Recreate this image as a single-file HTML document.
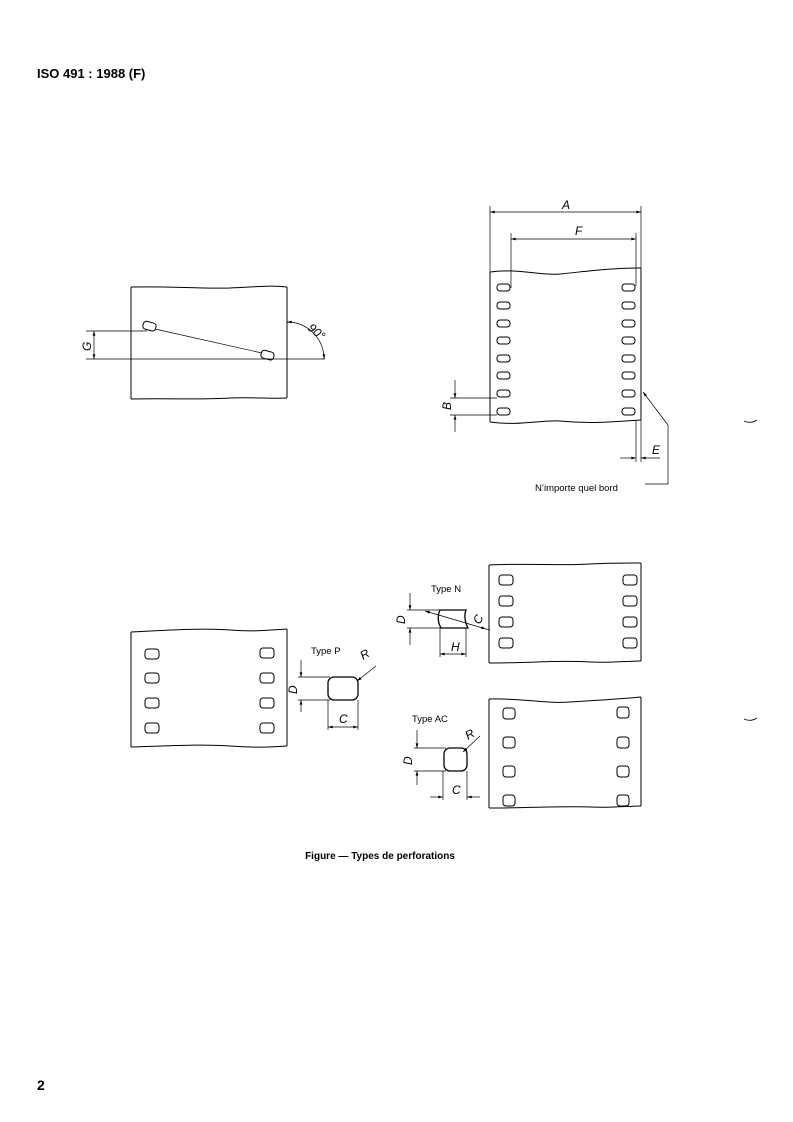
<!DOCTYPE html>
<html><head><meta charset="utf-8"><style>
html,body{margin:0;padding:0;background:#fff}
svg{display:block}
text{font-family:"Liberation Sans",sans-serif;fill:#000}
.i{font-style:italic;font-size:12px}
</style></head><body>
<svg width="793" height="1122" viewBox="0 0 793 1122" xmlns="http://www.w3.org/2000/svg">
<defs>
<marker id="a" viewBox="0 0 10 6" refX="10" refY="3" markerWidth="8" markerHeight="4" orient="auto-start-reverse"><path d="M0,0 L10,3 L0,6z" fill="#000"/></marker>
</defs>
<text x="37" y="78" font-size="13" font-weight="bold">ISO 491 : 1988 (F)</text>
<g fill="none" stroke="#000" stroke-width="1">
<!-- top right film -->
<path d="M490,272 C520,268 540,276 560,274 C590,271 610,268 641,268"/>
<path d="M490,422 C520,426 540,420 560,421 C590,424 610,422 641,420"/>
<line x1="490" y1="272" x2="490" y2="422"/>
<line x1="641" y1="268" x2="641" y2="420"/>
<g stroke-width="1">
<rect x="497" y="284" width="13" height="7" rx="3"/><rect x="497" y="302" width="13" height="7" rx="3"/><rect x="497" y="320" width="13" height="7" rx="3"/><rect x="497" y="337" width="13" height="7" rx="3"/><rect x="497" y="355" width="13" height="7" rx="3"/><rect x="497" y="372" width="13" height="7" rx="3"/><rect x="497" y="390" width="13" height="7" rx="3"/><rect x="497" y="408" width="13" height="7" rx="3"/>
<rect x="622" y="284" width="13" height="7" rx="3"/><rect x="622" y="302" width="13" height="7" rx="3"/><rect x="622" y="320" width="13" height="7" rx="3"/><rect x="622" y="337" width="13" height="7" rx="3"/><rect x="622" y="355" width="13" height="7" rx="3"/><rect x="622" y="372" width="13" height="7" rx="3"/><rect x="622" y="390" width="13" height="7" rx="3"/><rect x="622" y="408" width="13" height="7" rx="3"/>
</g>
<line x1="490" y1="206" x2="490" y2="272" stroke-width="0.7"/>
<line x1="641" y1="206" x2="641" y2="268" stroke-width="0.7"/>
<line x1="490" y1="212" x2="641" y2="212" marker-start="url(#a)" marker-end="url(#a)" stroke-width="0.7"/>
<line x1="511" y1="233" x2="511" y2="288" stroke-width="0.7"/>
<line x1="636" y1="233" x2="636" y2="286" stroke-width="0.7"/>
<line x1="511" y1="239" x2="636" y2="239" marker-start="url(#a)" marker-end="url(#a)" stroke-width="0.7"/>
<line x1="450" y1="398" x2="497" y2="398" stroke-width="0.7"/>
<line x1="450" y1="415" x2="497" y2="415" stroke-width="0.7"/>
<line x1="455" y1="380" x2="455" y2="398" marker-end="url(#a)" stroke-width="0.7"/>
<line x1="455" y1="432" x2="455" y2="415" marker-end="url(#a)" stroke-width="0.7"/>
<line x1="636" y1="420" x2="636" y2="462" stroke-width="0.7"/>
<line x1="641" y1="420" x2="641" y2="462" stroke-width="0.7"/>
<line x1="620" y1="458" x2="636" y2="458" marker-end="url(#a)" stroke-width="0.7"/>
<line x1="660" y1="458" x2="641" y2="458" marker-end="url(#a)" stroke-width="0.7"/>
<polyline points="668,484 668,425 643,392" marker-end="url(#a)" stroke-width="0.7"/>
<line x1="645" y1="484" x2="668" y2="484" stroke-width="0.7"/>
<!-- top left -->
<path d="M131,287 C170,286 200,289 230,288 C255,287 270,285 287,287"/>
<path d="M131,399 C170,398 200,400 230,398 C255,397 270,399 287,398"/>
<line x1="131" y1="287" x2="131" y2="399"/><line x1="287" y1="287" x2="287" y2="398"/>
<rect x="143" y="322" width="13" height="8" rx="3" transform="rotate(15 149 326)"/>
<rect x="261" y="351" width="13" height="8" rx="3" transform="rotate(15 267 355)"/>
<line x1="155" y1="329" x2="262" y2="353" stroke-width="0.7"/>
<line x1="86" y1="331" x2="147" y2="331" stroke-width="0.7"/>
<line x1="86" y1="359" x2="325" y2="359" stroke-width="0.7"/>
<line x1="94" y1="345" x2="94" y2="331" marker-end="url(#a)" stroke-width="0.7"/>
<line x1="94" y1="345" x2="94" y2="359" marker-end="url(#a)" stroke-width="0.7"/>
<path d="M287,322 A37,37 0 0 1 324,359" marker-start="url(#a)" marker-end="url(#a)" stroke-width="0.7"/>
<!-- bottom left film -->
<path d="M131,632 C170,630 200,628 230,630 C255,632 270,630 287,629"/>
<path d="M131,747 C170,746 200,744 230,746 C255,748 270,747 287,746"/>
<line x1="131" y1="632" x2="131" y2="747"/><line x1="287" y1="629" x2="287" y2="746"/>
<rect x="145" y="649" width="14" height="10" rx="3"/><rect x="145" y="673" width="14" height="10" rx="3"/><rect x="145" y="698" width="14" height="10" rx="3"/><rect x="145" y="723" width="14" height="10" rx="3"/>
<rect x="260" y="648" width="14" height="10" rx="3"/><rect x="260" y="673" width="14" height="10" rx="3"/><rect x="260" y="698" width="14" height="10" rx="3"/><rect x="260" y="723" width="14" height="10" rx="3"/>
<rect x="328" y="677" width="30" height="23" rx="6" stroke-width="1.3"/>
<line x1="298" y1="677" x2="330" y2="677" stroke-width="0.7"/>
<line x1="298" y1="700" x2="330" y2="700" stroke-width="0.7"/>
<line x1="301" y1="660" x2="301" y2="677" marker-end="url(#a)" stroke-width="0.7"/>
<line x1="301" y1="712" x2="301" y2="700" marker-end="url(#a)" stroke-width="0.7"/>
<line x1="328" y1="700" x2="328" y2="730" stroke-width="0.7"/>
<line x1="358" y1="700" x2="358" y2="730" stroke-width="0.7"/>
<line x1="328" y1="727" x2="358" y2="727" marker-start="url(#a)" marker-end="url(#a)" stroke-width="0.7"/>
<line x1="376" y1="666" x2="357" y2="681" marker-end="url(#a)" stroke-width="0.7"/>
<!-- Type N film -->
<path d="M489,565 C530,563 560,566 590,564 C610,563 625,563 641,563"/>
<path d="M489,663 C530,663 560,660 590,662 C610,663 625,661 641,661"/>
<line x1="489" y1="565" x2="489" y2="663"/><line x1="641" y1="563" x2="641" y2="661"/>
<rect x="499" y="575" width="14" height="10" rx="3"/><rect x="499" y="596" width="14" height="10" rx="3"/><rect x="499" y="617" width="14" height="10" rx="3"/><rect x="499" y="638" width="14" height="10" rx="3"/>
<rect x="623" y="575" width="14" height="10" rx="3"/><rect x="623" y="596" width="14" height="10" rx="3"/><rect x="623" y="617" width="14" height="10" rx="3"/><rect x="623" y="638" width="14" height="10" rx="3"/>
<path d="M440,610 L466,610 Q463,618 468,628 L441,628 Q436,619 440,610z" stroke-width="1.3"/>
<line x1="407" y1="610" x2="440" y2="610" stroke-width="0.7"/>
<line x1="407" y1="628" x2="441" y2="628" stroke-width="0.7"/>
<line x1="410" y1="593" x2="410" y2="610" marker-end="url(#a)" stroke-width="0.7"/>
<line x1="410" y1="645" x2="410" y2="628" marker-end="url(#a)" stroke-width="0.7"/>
<line x1="440" y1="628" x2="440" y2="657" stroke-width="0.7"/>
<line x1="466" y1="628" x2="466" y2="657" stroke-width="0.7"/>
<line x1="440" y1="654" x2="466" y2="654" marker-start="url(#a)" marker-end="url(#a)" stroke-width="0.7"/>
<line x1="425" y1="611" x2="486" y2="629" marker-start="url(#a)" marker-end="url(#a)" stroke-width="0.7"/>
<line x1="486" y1="629" x2="490" y2="630" stroke-width="0.7"/>
<!-- Type AC film -->
<path d="M489,699 C520,698 550,704 570,702 C600,700 620,699 641,697"/>
<path d="M489,808 C530,808 560,806 590,807 C610,808 625,806 641,806"/>
<line x1="489" y1="699" x2="489" y2="808"/><line x1="641" y1="697" x2="641" y2="806"/>
<rect x="503" y="708" width="12" height="11" rx="3"/><rect x="503" y="737" width="12" height="11" rx="3"/><rect x="503" y="766" width="12" height="11" rx="3"/><rect x="503" y="795" width="12" height="11" rx="3"/>
<rect x="617" y="707" width="12" height="11" rx="3"/><rect x="617" y="737" width="12" height="11" rx="3"/><rect x="617" y="766" width="12" height="11" rx="3"/><rect x="617" y="795" width="12" height="11" rx="3"/>
<rect x="444" y="748" width="23" height="23" rx="6" stroke-width="1.3"/>
<line x1="414" y1="748" x2="446" y2="748" stroke-width="0.7"/>
<line x1="414" y1="771" x2="446" y2="771" stroke-width="0.7"/>
<line x1="417" y1="730" x2="417" y2="748" marker-end="url(#a)" stroke-width="0.7"/>
<line x1="417" y1="785" x2="417" y2="771" marker-end="url(#a)" stroke-width="0.7"/>
<line x1="443" y1="771" x2="443" y2="800" stroke-width="0.7"/>
<line x1="467" y1="771" x2="467" y2="800" stroke-width="0.7"/>
<line x1="430" y1="797" x2="443" y2="797" marker-end="url(#a)" stroke-width="0.7"/>
<line x1="480" y1="797" x2="467" y2="797" marker-end="url(#a)" stroke-width="0.7"/>
<line x1="480" y1="736" x2="463" y2="752" marker-end="url(#a)" stroke-width="0.7"/>
<path d="M744,421 Q751,424 757,420" stroke-width="0.8"/>
<path d="M744,719 Q751,722 757,718" stroke-width="0.8"/>
</g>
<text class="i" x="562" y="209">A</text>
<text class="i" x="575" y="235">F</text>
<text class="i" x="0" y="0" transform="translate(451,410) rotate(-90)">B</text>
<text class="i" x="652" y="454">E</text>
<text x="535" y="491" font-size="9.5">N’importe quel bord</text>
<text class="i" x="0" y="0" transform="translate(91,351) rotate(-90)">G</text>
<text class="i" x="0" y="0" transform="translate(307,329) rotate(40)" font-size="12">90°</text>
<text x="311" y="654" font-size="9.5">Type P</text>
<text class="i" x="0" y="0" transform="translate(297,694) rotate(-90)">D</text>
<text class="i" x="339" y="723">C</text>
<text class="i" x="0" y="0" transform="translate(363,660) rotate(-30)">R</text>
<text x="431" y="592" font-size="9.5">Type N</text>
<text class="i" x="0" y="0" transform="translate(405,624) rotate(-90)">D</text>
<text class="i" x="451" y="651">H</text>
<text class="i" x="0" y="0" transform="translate(480,625) rotate(-65)">C</text>
<text x="412" y="722" font-size="9.5">Type AC</text>
<text class="i" x="0" y="0" transform="translate(412,765) rotate(-90)">D</text>
<text class="i" x="452" y="794">C</text>
<text class="i" x="0" y="0" transform="translate(468,740) rotate(-30)">R</text>
<text x="380" y="859" font-size="10" font-weight="bold" text-anchor="middle">Figure — Types de perforations</text>
<text x="37" y="1090" font-size="14" font-weight="bold">2</text>
</svg>
</body></html>
